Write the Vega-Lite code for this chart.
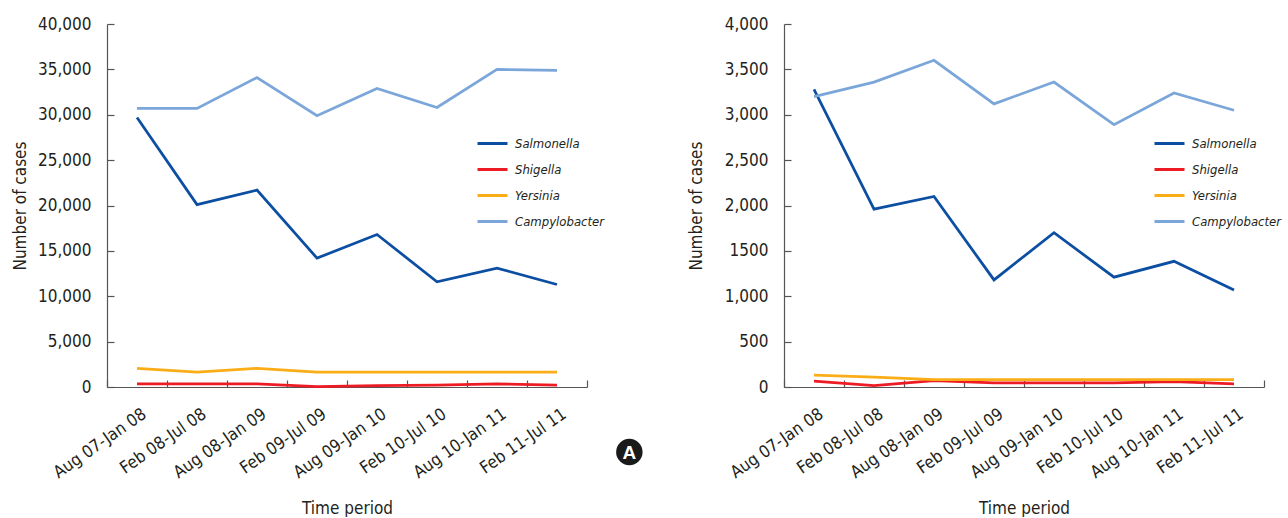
{
  "$schema": "https://vega.github.io/schema/vega-lite/v6.json",
  "padding": {"left": 11, "top": 15, "right": 0, "bottom": 0},
  "background": "white",
  "bounds": "flush",
  "spacing": 0,
  "config": {
    "font": "DejaVu Sans Condensed, Liberation Sans Narrow, Roboto Condensed, Roboto, sans-serif",
    "view": {"stroke": null},
    "axis": {
      "domainColor": "#555555",
      "domainWidth": 1.2,
      "tickColor": "#555555",
      "tickWidth": 1.2,
      "tickSize": -7,
      "grid": false,
      "labelFont": "DejaVu Sans Condensed, Liberation Sans Narrow, Roboto Condensed, Roboto, sans-serif",
      "labelFontSize": 17,
      "labelColor": "#231f20",
      "titleFont": "DejaVu Sans Condensed, Liberation Sans Narrow, Roboto Condensed, Roboto, sans-serif",
      "titleFontSize": 17,
      "titleFontWeight": "normal",
      "titleColor": "#231f20"
    },
    "legend": {
      "labelFont": "DejaVu Sans Condensed, Liberation Sans Narrow, Roboto Condensed, Roboto, sans-serif",
      "labelFontSize": 13,
      "labelFontStyle": "italic",
      "labelColor": "#231f20",
      "symbolType": "stroke",
      "symbolSize": 900,
      "symbolStrokeWidth": 3,
      "labelOffset": 6,
      "rowPadding": 2,
      "padding": 0
    }
  },
  "datasets": {
    "cases": [
      {"panel": "1", "period": "Aug 07-Jan 08", "organism": "Salmonella", "cases": 29700},
      {"panel": "1", "period": "Feb 08-Jul 08", "organism": "Salmonella", "cases": 20100},
      {"panel": "1", "period": "Aug 08-Jan 09", "organism": "Salmonella", "cases": 21700},
      {"panel": "1", "period": "Feb 09-Jul 09", "organism": "Salmonella", "cases": 14200},
      {"panel": "1", "period": "Aug 09-Jan 10", "organism": "Salmonella", "cases": 16800},
      {"panel": "1", "period": "Feb 10-Jul 10", "organism": "Salmonella", "cases": 11600},
      {"panel": "1", "period": "Aug 10-Jan 11", "organism": "Salmonella", "cases": 13100},
      {"panel": "1", "period": "Feb 11-Jul 11", "organism": "Salmonella", "cases": 11300},
      {"panel": "1", "period": "Aug 07-Jan 08", "organism": "Shigella", "cases": 350},
      {"panel": "1", "period": "Feb 08-Jul 08", "organism": "Shigella", "cases": 350},
      {"panel": "1", "period": "Aug 08-Jan 09", "organism": "Shigella", "cases": 350},
      {"panel": "1", "period": "Feb 09-Jul 09", "organism": "Shigella", "cases": 50},
      {"panel": "1", "period": "Aug 09-Jan 10", "organism": "Shigella", "cases": 150},
      {"panel": "1", "period": "Feb 10-Jul 10", "organism": "Shigella", "cases": 200},
      {"panel": "1", "period": "Aug 10-Jan 11", "organism": "Shigella", "cases": 350},
      {"panel": "1", "period": "Feb 11-Jul 11", "organism": "Shigella", "cases": 200},
      {"panel": "1", "period": "Aug 07-Jan 08", "organism": "Yersinia", "cases": 2050},
      {"panel": "1", "period": "Feb 08-Jul 08", "organism": "Yersinia", "cases": 1650},
      {"panel": "1", "period": "Aug 08-Jan 09", "organism": "Yersinia", "cases": 2050},
      {"panel": "1", "period": "Feb 09-Jul 09", "organism": "Yersinia", "cases": 1650},
      {"panel": "1", "period": "Aug 09-Jan 10", "organism": "Yersinia", "cases": 1650},
      {"panel": "1", "period": "Feb 10-Jul 10", "organism": "Yersinia", "cases": 1650},
      {"panel": "1", "period": "Aug 10-Jan 11", "organism": "Yersinia", "cases": 1650},
      {"panel": "1", "period": "Feb 11-Jul 11", "organism": "Yersinia", "cases": 1650},
      {"panel": "1", "period": "Aug 07-Jan 08", "organism": "Campylobacter", "cases": 30700},
      {"panel": "1", "period": "Feb 08-Jul 08", "organism": "Campylobacter", "cases": 30700},
      {"panel": "1", "period": "Aug 08-Jan 09", "organism": "Campylobacter", "cases": 34100},
      {"panel": "1", "period": "Feb 09-Jul 09", "organism": "Campylobacter", "cases": 29900},
      {"panel": "1", "period": "Aug 09-Jan 10", "organism": "Campylobacter", "cases": 32900},
      {"panel": "1", "period": "Feb 10-Jul 10", "organism": "Campylobacter", "cases": 30800},
      {"panel": "1", "period": "Aug 10-Jan 11", "organism": "Campylobacter", "cases": 35000},
      {"panel": "1", "period": "Feb 11-Jul 11", "organism": "Campylobacter", "cases": 34900},
      {"panel": "2", "period": "Aug 07-Jan 08", "organism": "Salmonella", "cases": 3280},
      {"panel": "2", "period": "Feb 08-Jul 08", "organism": "Salmonella", "cases": 1960},
      {"panel": "2", "period": "Aug 08-Jan 09", "organism": "Salmonella", "cases": 2100},
      {"panel": "2", "period": "Feb 09-Jul 09", "organism": "Salmonella", "cases": 1180},
      {"panel": "2", "period": "Aug 09-Jan 10", "organism": "Salmonella", "cases": 1700},
      {"panel": "2", "period": "Feb 10-Jul 10", "organism": "Salmonella", "cases": 1210},
      {"panel": "2", "period": "Aug 10-Jan 11", "organism": "Salmonella", "cases": 1385},
      {"panel": "2", "period": "Feb 11-Jul 11", "organism": "Salmonella", "cases": 1070},
      {"panel": "2", "period": "Aug 07-Jan 08", "organism": "Shigella", "cases": 65},
      {"panel": "2", "period": "Feb 08-Jul 08", "organism": "Shigella", "cases": 15},
      {"panel": "2", "period": "Aug 08-Jan 09", "organism": "Shigella", "cases": 70},
      {"panel": "2", "period": "Feb 09-Jul 09", "organism": "Shigella", "cases": 45},
      {"panel": "2", "period": "Aug 09-Jan 10", "organism": "Shigella", "cases": 45},
      {"panel": "2", "period": "Feb 10-Jul 10", "organism": "Shigella", "cases": 45},
      {"panel": "2", "period": "Aug 10-Jan 11", "organism": "Shigella", "cases": 60},
      {"panel": "2", "period": "Feb 11-Jul 11", "organism": "Shigella", "cases": 35},
      {"panel": "2", "period": "Aug 07-Jan 08", "organism": "Yersinia", "cases": 130},
      {"panel": "2", "period": "Feb 08-Jul 08", "organism": "Yersinia", "cases": 110},
      {"panel": "2", "period": "Aug 08-Jan 09", "organism": "Yersinia", "cases": 80},
      {"panel": "2", "period": "Feb 09-Jul 09", "organism": "Yersinia", "cases": 80},
      {"panel": "2", "period": "Aug 09-Jan 10", "organism": "Yersinia", "cases": 80},
      {"panel": "2", "period": "Feb 10-Jul 10", "organism": "Yersinia", "cases": 80},
      {"panel": "2", "period": "Aug 10-Jan 11", "organism": "Yersinia", "cases": 80},
      {"panel": "2", "period": "Feb 11-Jul 11", "organism": "Yersinia", "cases": 80},
      {"panel": "2", "period": "Aug 07-Jan 08", "organism": "Campylobacter", "cases": 3200},
      {"panel": "2", "period": "Feb 08-Jul 08", "organism": "Campylobacter", "cases": 3360},
      {"panel": "2", "period": "Aug 08-Jan 09", "organism": "Campylobacter", "cases": 3600},
      {"panel": "2", "period": "Feb 09-Jul 09", "organism": "Campylobacter", "cases": 3120},
      {"panel": "2", "period": "Aug 09-Jan 10", "organism": "Campylobacter", "cases": 3360},
      {"panel": "2", "period": "Feb 10-Jul 10", "organism": "Campylobacter", "cases": 2890},
      {"panel": "2", "period": "Aug 10-Jan 11", "organism": "Campylobacter", "cases": 3240},
      {"panel": "2", "period": "Feb 11-Jul 11", "organism": "Campylobacter", "cases": 3050}
    ],
    "badge": [{"label": "A"}]
  },
  "resolve": {
    "scale": {"x": "independent", "y": "independent", "color": "independent"},
    "legend": {"color": "independent"}
  },
  "hconcat": [
    {
      "width": 480,
      "height": 363,
      "data": {"name": "cases"},
      "transform": [{"filter": "datum.panel === '1'"}],
      "mark": {"type": "line", "strokeWidth": 2.75},
      "encoding": {
        "x": {
          "field": "period", "type": "nominal", "sort": null,
          "scale": {"type": "band", "paddingInner": 0, "paddingOuter": 0},
          "axis": {"title": "Time period", "labelAngle": -35, "labelAlign": "right", "labelBaseline": "middle", "labelPadding": 32, "labelOffset": 7, "tickBand": "extent", "titlePadding": 20}
        },
        "y": {
          "field": "cases", "type": "quantitative",
          "scale": {"domain": [0, 40000], "nice": false},
          "axis": {"title": "Number of cases", "values": [0, 5000, 10000, 15000, 20000, 25000, 30000, 35000, 40000], "labelExpr": "format(datum.value, ',')", "labelPadding": 23, "titlePadding": 8}
        },
        "color": {
          "field": "organism", "type": "nominal",
          "scale": {"domain": ["Salmonella", "Shigella", "Yersinia", "Campylobacter"], "range": ["#0c4ea2", "#ed1c24", "#fbad18", "#7ba6da"]},
          "legend": {"title": null, "orient": "none", "legendX": 369, "legendY": 103}
        }
      }
    },
    {
      "width": 197,
      "height": 440,
      "data": {"name": "badge"},
      "encoding": {
        "x": {"field": "label", "type": "nominal", "scale": {"type": "point", "align": 0.215}, "axis": null},
        "y": {"field": "label", "type": "nominal", "scale": {"type": "point", "align": 0.9727}, "axis": null}
      },
      "layer": [
        {"mark": {"type": "point", "filled": true, "shape": "circle", "size": 700, "color": "#1a1a1a", "opacity": 1}},
        {"mark": {"type": "text", "color": "white", "fontWeight": "bold", "fontSize": 19, "font": "Liberation Sans", "align": "center", "baseline": "middle", "dy": 1}, "encoding": {"text": {"field": "label"}}}
      ]
    },
    {
      "width": 480,
      "height": 363,
      "data": {"name": "cases"},
      "transform": [{"filter": "datum.panel === '2'"}],
      "mark": {"type": "line", "strokeWidth": 2.75},
      "encoding": {
        "x": {
          "field": "period", "type": "nominal", "sort": null,
          "scale": {"type": "band", "paddingInner": 0, "paddingOuter": 0},
          "axis": {"title": "Time period", "labelAngle": -35, "labelAlign": "right", "labelBaseline": "middle", "labelPadding": 32, "labelOffset": 7, "tickBand": "extent", "titlePadding": 20}
        },
        "y": {
          "field": "cases", "type": "quantitative",
          "scale": {"domain": [0, 4000], "nice": false},
          "axis": {"title": "Number of cases", "values": [0, 500, 1000, 1500, 2000, 2500, 3000, 3500, 4000], "labelExpr": "datum.value === 1500 ? '1500' : format(datum.value, ',')", "labelPadding": 23, "titlePadding": 19}
        },
        "color": {
          "field": "organism", "type": "nominal",
          "scale": {"domain": ["Salmonella", "Shigella", "Yersinia", "Campylobacter"], "range": ["#0c4ea2", "#ed1c24", "#fbad18", "#7ba6da"]},
          "legend": {"title": null, "orient": "none", "legendX": 369, "legendY": 103}
        }
      }
    }
  ]
}
